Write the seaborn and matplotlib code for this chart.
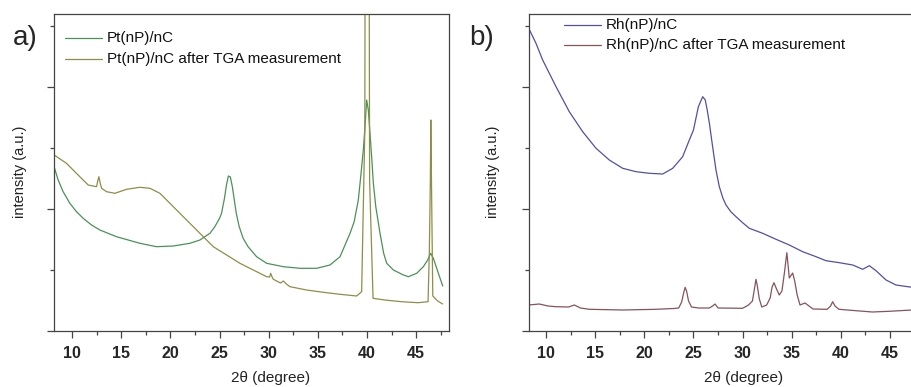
import matplotlib
matplotlib.use("Agg")
import matplotlib.pyplot as plt
import seaborn as sns
import pandas as pd
from matplotlib.ticker import FixedLocator

# ---------------- data ----------------
pt_x = [8.17, 8.57, 9.08, 9.76, 10.44, 11.12, 11.97, 12.82, 14.51, 16.89, 18.59, 20.29,
        21.98, 23.0, 24.02, 24.5, 25.0, 25.2, 25.5, 25.7, 25.9, 26.1, 26.3, 26.5,
        26.7, 27.0, 27.4, 27.9, 28.77, 29.79, 31.49, 33.18, 34.88, 36.24, 37.26, 38.28,
        38.7, 39.12, 39.4, 39.63, 39.8, 39.97, 40.14, 40.31, 40.5, 40.65, 40.9, 41.33,
        41.7, 42.01, 42.69, 43.71, 44.22, 45.06, 45.74, 46.18, 46.48, 46.76, 47.27, 47.71]
pt_y = [164, 151, 139.3, 127.7, 119.3, 112.7, 106, 101, 94.3, 87.7, 84.3, 85,
        87.7, 91, 97.7, 104, 112.7, 117.7, 132.7, 146, 155, 154, 144.3, 131,
        117.7, 104.3, 92.7, 84.3, 74.3, 67.7, 64.3, 62.7, 62.7, 66, 74.3, 97.7,
        109.3, 131, 157.7, 181, 204, 231, 221, 197.7, 171, 147.7, 124.3, 97.7,
        77.7, 67.7, 61, 56, 54.3, 57.7, 64.3, 71, 77.7, 72.7, 57.7, 45]

pt_tga_x = [8.17, 9.42, 10.5, 11.12, 11.63, 12.48, 12.6, 12.72, 12.85, 12.99, 13.5, 14.35,
            15.53, 16.89, 17.91, 18.93, 20.29, 21.64, 23.0, 24.36, 25.72, 27.07, 28.43, 29.79,
            30.1, 30.2, 30.35, 30.47, 31.2, 31.49, 31.8, 32.17, 33.86, 35.56, 37.26, 38.95,
            39.46, 39.78, 39.82, 40.22, 40.27, 40.62, 41.81, 43.51, 45.2, 46.22, 46.35, 46.45,
            46.5, 46.6, 46.7, 47.2, 47.71]
pt_tga_y = [176, 167.7, 157, 151, 146, 144.3, 150, 154.3, 148, 142.7, 139.3, 137.7,
            141.7, 143.7, 142.7, 137.7, 124.3, 111, 97.7, 84.3, 76, 67.7, 61, 54.3,
            54, 57.7, 54, 51.7, 48, 50, 47, 44.3, 41, 38.7, 36.7, 35,
            39.3, 200, 400, 400, 150, 32.7, 31, 29.3, 28.3, 29.3, 80, 150,
            211, 120, 35, 30, 27]

rh_x = [8.24, 8.98, 9.66, 11.02, 12.37, 13.73, 15.09, 16.44, 17.8, 19.16, 20.51, 21.87,
        22.89, 23.9, 24.58, 25.0, 25.5, 25.94, 26.2, 26.4, 26.62, 26.95, 27.29, 27.63,
        28.0, 28.31, 28.8, 29.33, 30.0, 30.68, 32.04, 33.4, 34.75, 36.11, 37.47, 38.48,
        39.84, 41.2, 42.21, 42.89, 43.57, 44.59, 45.6, 47.23]
rh_y = [302.7, 287.7, 271, 244.3, 219.3, 199.3, 182.7, 171, 162.7, 159.3, 157.7, 157,
        162.7, 174.3, 191, 201, 224.3, 234.3, 231, 221, 207.7, 184.3, 161, 144.3,
        132.7, 126, 119.3, 114.3, 108.3, 102.7, 97.7, 91.7, 86, 79.3, 74.3, 70.3,
        68.3, 66, 61.7, 65.3, 60.3, 51, 46, 43.7]

rh_tga_x = [8.24, 9.32, 10.2, 11.02, 12.3, 12.88, 13.5, 14.41, 17.8, 21.19, 23.0, 23.5,
            23.8, 24.0, 24.15, 24.3, 24.5, 24.8, 25.5, 26.62, 26.95, 27.19, 27.5, 30.0,
            30.6, 31.0, 31.2, 31.36, 31.5, 31.7, 31.95, 32.45, 32.8, 33.0, 33.19, 33.45,
            33.73, 34.0, 34.25, 34.5, 34.75, 35.09, 35.3, 35.55, 35.84, 36.35, 37.16, 38.6,
            38.95, 39.16, 39.4, 39.8, 41.54, 43.2, 44.9, 47.23]
rh_tga_y = [26, 27, 25, 24.3, 24, 26, 23, 21.7, 21, 21.7, 22.5, 23,
            29, 38, 43.7, 40, 30, 24, 23, 23, 25, 27, 23, 22.7,
            26, 30, 42, 51.7, 45, 32, 24, 26, 33, 44, 48.3, 42,
            36, 40, 58, 78.3, 53, 58, 50, 36, 26, 28, 22, 21.7,
            25, 29.3, 25, 21.7, 20.3, 19, 19.7, 21]

x_ticks = [10, 15, 20, 25, 30, 35, 40, 45]
labels_a = ["Pt(nP)/nC", "Pt(nP)/nC after TGA measurement"]
labels_b = ["Rh(nP)/nC", "Rh(nP)/nC after TGA measurement"]

# ---------------- style ----------------
sns.set_style("ticks")
plt.rcParams['font.family'] = ['Liberation Sans', 'DejaVu Sans']

W, H = 912, 387
fig = plt.figure(figsize=(W / 100, H / 100), dpi=100)

def px_axes(left, bottom_px, width, height):
    return fig.add_axes([left / W, (H - bottom_px) / H, width / W, height / H])

ax_a = px_axes(54, 331, 395, 317)
ax_b = px_axes(529, 331, 394, 317)

def style(ax, xlim):
    ax.set_xlim(*xlim)
    ax.set_ylim(0, 317)
    ax.xaxis.set_major_locator(FixedLocator(x_ticks))
    ax.xaxis.set_minor_locator(FixedLocator([t + 2.5 for t in x_ticks]))
    ax.yaxis.set_major_locator(FixedLocator([0, 122, 244]))
    ax.yaxis.set_minor_locator(FixedLocator([61, 183, 305]))
    ax.set_yticklabels([])
    ax.tick_params(axis='both', which='major', direction='out', length=5, width=0.9,
                   color='#444444')
    ax.tick_params(axis='both', which='minor', direction='out', length=3, width=0.9,
                   color='#444444')
    ax.tick_params(axis='x', labelsize=11.5, pad=6)
    for lab in ax.get_xticklabels():
        lab.set_fontweight('bold')
    for s in ax.spines.values():
        s.set_visible(True)
        s.set_color('#444444')
        s.set_linewidth(0.9)
    ax.set_xlabel("")
    ax.set_ylabel("")

def draw(ax, x, y, color):
    df = pd.DataFrame({"x": x, "y": y})
    sns.lineplot(data=df, x="x", y="y", ax=ax, color=color, linewidth=0.9,
                 sort=False, estimator=None)

draw(ax_a, pt_x, pt_y, "#4a9258")
draw(ax_a, pt_tga_x, pt_tga_y, "#8e8e48")
draw(ax_b, rh_x, rh_y, "#5050a6")
draw(ax_b, rh_tga_x, rh_tga_y, "#86535a")

style(ax_a, (8.15, 48.35))
style(ax_b, (8.27, 48.35))

# legends (manual, like the original)
def legend(labels, colors, x0, y0, dy):
    for i, (lab, c) in enumerate(zip(labels, colors)):
        y = y0 + i * dy
        fig.add_artist(plt.Line2D([x0 / W, (x0 + 37) / W], [(H - y) / H, (H - y) / H],
                                  color=c, linewidth=0.9, transform=fig.transFigure))
        fig.text((x0 + 42) / W, (H - y) / H, lab, fontsize=11, va='center', ha='left',
                 color='#111111')

legend(labels_a, ["#4a9258", "#8e8e48"], 65, 38, 21)
legend(labels_b, ["#5050a6", "#86535a"], 564, 25, 20)

# panel letters
fig.text(13 / W, (H - 38) / H, "a)", fontsize=20, va='center', ha='left')
fig.text(469 / W, (H - 38) / H, "b)", fontsize=20, va='center', ha='left')

# axis labels
for cx in (271, 744):
    fig.text(cx / W, (H - 378) / H, "2θ (degree)", fontsize=11, ha='center', va='center',
             color='#222222')
for cx in (20, 493):
    fig.text(cx / W, (H - 172) / H, "intensity (a.u.)", fontsize=10.5, ha='center',
             va='center', rotation=90, color='#222222')

fig.savefig("out.png", dpi=100)
